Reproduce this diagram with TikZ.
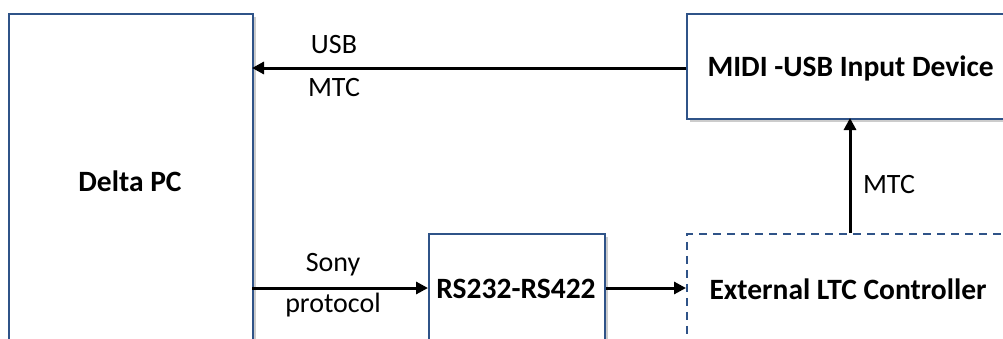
\documentclass[tikz,border=0pt]{standalone}
\usepackage{fontspec}
\setmainfont{Carlito}
\usetikzlibrary{arrows.meta,shadows}
\definecolor{boxblue}{HTML}{2F5388}
\tikzset{
  blk/.style={draw=boxblue,line width=2pt,fill=white,drop shadow={shadow xshift=3pt,shadow yshift=-3pt,opacity=0.4,fill=black!50}},
  dblk/.style={draw=boxblue,line width=1.8pt,dash pattern=on 8pt off 6pt,fill=white},
  lbl/.style={font=\bfseries\fontsize{29.5}{34}\selectfont},
  txt/.style={font=\fontsize{28}{32}\selectfont},
  conn/.style={line width=3pt,-{Triangle[length=12pt,width=12pt]}},
}
\begin{document}
\begin{tikzpicture}[x=1pt,y=-1pt]
\useasboundingbox (0,0) rectangle (1003,338);
\begin{scope}
\clip (0,0) rectangle (1003,338);
\node[blk,minimum width=244pt,minimum height=360pt,anchor=north west,inner sep=0] (pc) at (8,13) {};
\node[blk,minimum width=330pt,minimum height=105pt,anchor=north west,inner sep=0] (midi) at (686,13) {};
\node[blk,minimum width=176pt,minimum height=130pt,anchor=north west,inner sep=0] (rs) at (428,233) {};
\node[dblk,minimum width=330pt,minimum height=130pt,anchor=north west,inner sep=0] (ltc) at (686,233) {};
\end{scope}
\node[lbl] (pct) at (130,181) {Delta PC};
\node[lbl,anchor=west] (midit) at (704,68) {MIDI -USB Input Device};
\node[lbl] (rst) at (516,289) {RS232-RS422};
\node[lbl,anchor=west] (ltct) at (706,289) {External LTC Controller};
\coordinate (pcusb) at (252,68);
\coordinate (pcsony) at (252,288);
\coordinate (midiin) at (850,118);
\coordinate (ltcout) at (850,233);
\draw[conn] (midi.west |- pcusb) -- (pcusb);
\draw[conn] (pcsony) -- (rs.west |- pcsony);
\draw[conn] (rs.east |- pcsony) -- (ltc.west |- pcsony);
\draw[conn] (ltcout) -- (midiin);
\node[txt] (usb) at (334,45) {USB};
\node[txt] (mtc1) at (334,88) {MTC};
\node[txt] (sony) at (333,265) {Sony};
\node[txt] (prot) at (333,305) {protocol};
\node[txt] (mtc2) at (889,185) {MTC};
\end{tikzpicture}
\end{document}
